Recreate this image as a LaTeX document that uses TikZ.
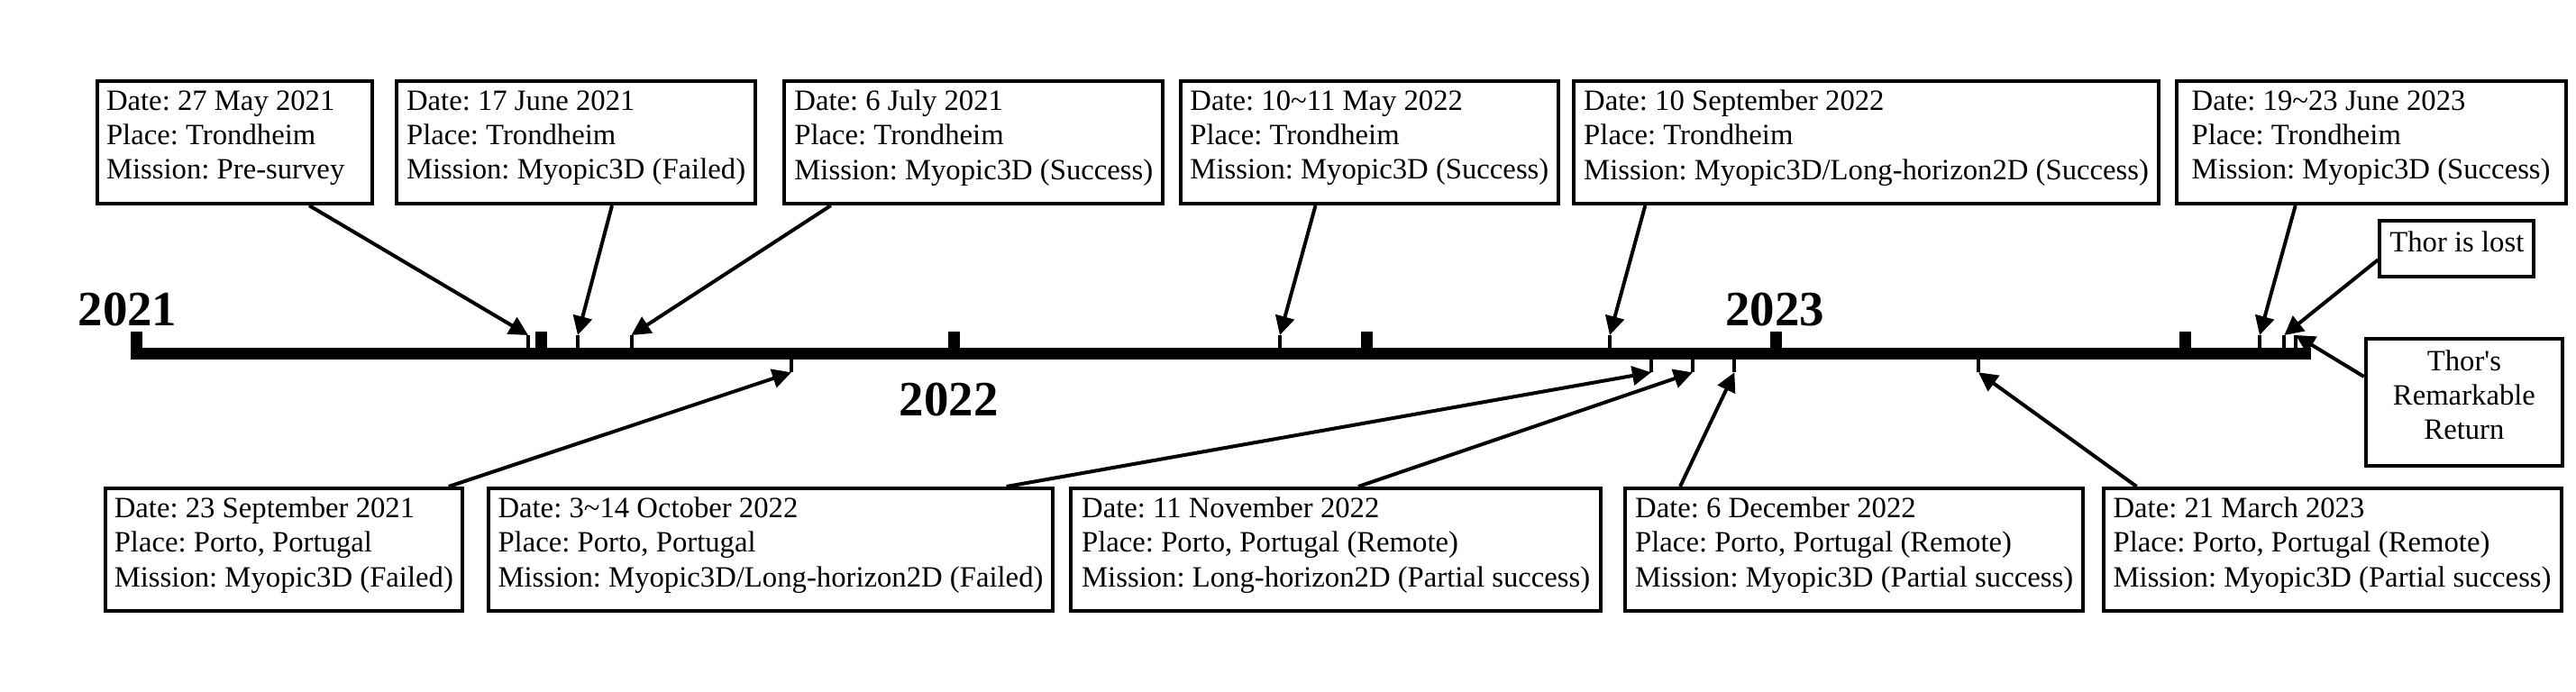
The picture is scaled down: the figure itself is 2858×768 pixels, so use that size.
\documentclass[tikz,border=0pt]{standalone}
\usepackage{fontspec}
\setmainfont{Liberation Serif}
\usetikzlibrary{arrows.meta}
\frenchspacing
\newcommand{\evfont}{\fontsize{9.3}{10.9}\selectfont}
\newcommand{\yrfont}{\fontsize{15.6}{18}\selectfont\bfseries}
\newcommand{\evend}{\rule[-0.17cm]{0pt}{0pt}}
\tikzset{
ev/.style={draw,line width=0.04cm,align=left,anchor=north west,inner xsep=0.1cm,inner ysep=0pt,minimum height=1.36cm,font=\evfont},
note/.style={draw,line width=0.04cm,align=center,anchor=north west,inner sep=0pt,font=\evfont},
evarrow/.style={line width=0.04cm,-{Triangle[length=0.21cm,width=0.21cm]}},
yr/.style={anchor=base,font=\yrfont},
bar/.style={line width=0.13cm},
bigtick/.style={line width=0.13cm},
smalltick/.style={line width=0.04cm}
}
\begin{document}
\begin{tikzpicture}[x=0.01cm,y=-0.01cm]
\path[use as bounding box,fill=white](0,0)rectangle(2858,768);
\coordinate (s) at(145,392.5);\coordinate (e) at(2563.5,392.5);
\draw[bar](s)--(e);
\draw[bigtick](151.5,392.5)--++(0,-24.5) (600,392.5)--++(0,-24.5) (1058.5,392.5)--++(0,-24.5)
 (1516.5,392.5)--++(0,-24.5) (1970,392.5)--++(0,-24.5) (2424,392.5)--++(0,-24.5);
\coordinate (tmay21) at(586,372);\coordinate (tjun21) at(641,372);\coordinate (tjul21) at(700.5,372);
\coordinate (tmay22) at(1420,372);\coordinate (tsep22) at(1786,372);\coordinate (tjun23) at(2507,372);
\coordinate (tlost) at(2534.3,372);\coordinate (tback) at(2547,372);
\coordinate (tsep21) at(878,413.3);\coordinate (toct22) at(1832,413.3);\coordinate (tnov22) at(1878,413.3);
\coordinate (tdec22) at(1924.3,413.3);\coordinate (tmar23) at(2195,413.3);
\draw[smalltick](tmay21)--++(0,20.5) (tjun21)--++(0,20.5) (tjul21)--++(0,20.5) (tmay22)--++(0,20.5)
 (tsep22)--++(0,20.5) (tjun23)--++(0,20.5) (tlost)--++(0,20.5) (tback)--++(0,20.5);
\draw[smalltick](tsep21)--++(0,-20.8) (toct22)--++(0,-20.8) (tnov22)--++(0,-20.8) (tdec22)--++(0,-20.8) (tmar23)--++(0,-20.8);
\node[yr](y21) at(141.5,362){2021};
\node[yr](y22) at(1052.6,462){2022};
\node[yr](y23) at(1969,362){2023};
\node[ev,align=flush left,text width=2.845cm](may21) at(106,88){Date: 27 May 2021\\Place: Trondheim\\Mission: Pre-survey\evend};
\node[ev,minimum width=3.98cm](jun21) at(438,88){Date: 17 June 2021\\Place: Trondheim\\Mission: Myopic3D (Failed)\evend};
\node[ev,minimum width=4.196cm](jul21) at(868.4,88){Date: 6 July 2021\\Place: Trondheim\\Mission: Myopic3D (Success)\evend};
\node[ev,minimum width=4.195cm](may22) at(1307.5,88){Date: 10\textasciitilde 11 May 2022\\Place: Trondheim\\Mission: Myopic3D (Success)\evend};
\node[ev,minimum width=6.482cm](sep22) at(1744.3,88){Date: 10 September 2022\\Place: Trondheim\\Mission: Myopic3D/Long-horizon2D (Success)\evend};
\node[ev,minimum width=4.316cm](jun23) at(2412.7,88){Date: 19\textasciitilde 23 June 2023\\Place: Trondheim\\Mission: Myopic3D (Success)\evend};
\node[ev,minimum width=3.95cm](sep21) at(114.8,540){Date: 23 September 2021\\Place: Porto, Portugal\\Mission: Myopic3D (Failed)\evend};
\node[ev,minimum width=6.264cm](oct22) at(539.6,540){Date: 3\textasciitilde 14 October 2022\\Place: Porto, Portugal\\Mission: Myopic3D/Long-horizon2D (Failed)\evend};
\node[ev,minimum width=5.88cm](nov22) at(1186,540){Date: 11 November 2022\\Place: Porto, Portugal (Remote)\\Mission: Long-horizon2D (Partial success)\evend};
\node[ev,minimum width=5.08cm](dec22) at(1801,540){Date: 6 December 2022\\Place: Porto, Portugal (Remote)\\Mission: Myopic3D (Partial success)\evend};
\node[ev,minimum width=5.078cm](mar23) at(2331.5,540){Date: 21 March 2023\\Place: Porto, Portugal (Remote)\\Mission: Myopic3D (Partial success)\evend};
\node[note,minimum width=1.71cm,minimum height=0.62cm](lost) at(2638.3,243.3){Thor is lost\evend};
\node[note,minimum width=2.183cm,minimum height=1.413cm](back) at(2622.7,374){Thor\textquotesingle s\\Remarkable\\Return\evend};
\draw[evarrow](may21.south west)++(237,0)--(tmay21);
\draw[evarrow](jun21.south west)++(241,0)--(tjun21);
\draw[evarrow](jul21.south west)++(53.4,0)--(tjul21);
\draw[evarrow](may22.south west)++(152,0)--(tmay22);
\draw[evarrow](sep22.south west)++(81,0)--(tsep22);
\draw[evarrow](jun23.south west)++(134,0)--(tjun23);
\draw[evarrow](lost.west)++(0,12)--(tlost);
\draw[evarrow](back.west)++(0,-28.7)--(tback);
\draw[evarrow](sep21.north west)++(383,0)--(tsep21);
\draw[evarrow](oct22.north west)++(577,0)--(toct22);
\draw[evarrow](nov22.north west)++(321,0)--(tnov22);
\draw[evarrow](dec22.north west)++(63,0)--(tdec22);
\draw[evarrow](mar23.north west)++(39,0)--(tmar23);
\end{tikzpicture}
\end{document}
